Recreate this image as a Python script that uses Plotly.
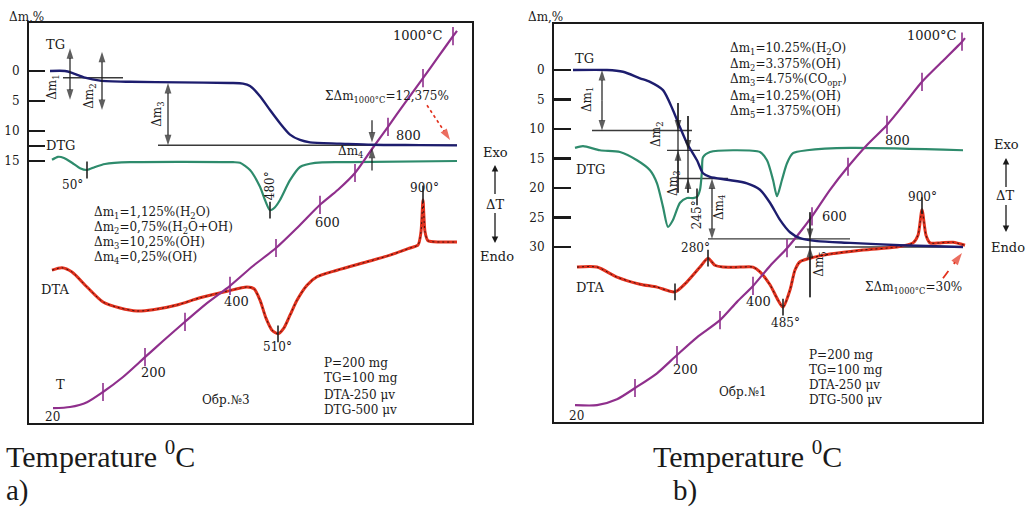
import plotly.graph_objects as go

FONT = "DejaVu Serif"
NAVY = "#1d1d6e"
GREEN = "#2e8b6c"
RED = "#e2311d"
PURPLE = "#8f2f8c"
INK = "#1a1a1a"
W, H = 1032, 508

# ================= panel a) data (x: time units, y: mass loss %) =================
tg_a_t = [21, 36, 43, 56, 71, 101, 151, 201, 214, 221, 231, 241, 251, 261, 271, 281, 311, 343, 391, 428]
tg_a_dm = [0, 0, 0.3, 1.1, 1.6, 1.8, 1.9, 2.0, 2.1, 2.5, 4.2, 6.5, 8.7, 10.6, 11.5, 11.9, 12.1, 12.3, 12.35, 12.4]

dtg_a_t = [23, 29, 35, 43, 51, 58, 66, 76, 101, 204, 211, 221, 231, 236, 241, 246, 251, 261, 271, 286, 321, 428]
dtg_a_y = [14.8, 14.3, 14.5, 15.3, 16.2, 16.5, 16.0, 15.5, 15.2, 15.2, 15.3, 16.5, 19.3, 21.5, 23.2, 22.7, 21.5, 18.2, 16.0, 15.3, 15.2, 15.0]

dta_a_t = [23, 33, 43, 58, 74, 91, 108, 124, 148, 171, 198, 218, 225, 231, 237, 243, 249, 255, 261, 268, 278, 288, 308, 338, 361, 381, 389, 392, 394, 396, 399, 411, 428]
dta_a_y = [33.2, 32.8, 33.5, 36.0, 38.5, 39.5, 40.0, 39.8, 39.0, 37.8, 36.7, 36.0, 36.3, 38.2, 41.2, 43.2, 43.8, 42.8, 40.7, 38.2, 35.7, 34.3, 33.2, 31.8, 30.7, 29.5, 29.0, 26.8, 21.5, 26.8, 28.3, 28.5, 28.5]

temp_a_t = [24, 41, 58, 74, 94, 116, 134, 156, 178, 201, 224, 247, 269, 291, 309, 326, 343, 359, 376, 394, 409, 424, 428]
temp_a_y = [56.2, 56.0, 55.2, 53.5, 51.0, 47.7, 45.0, 41.8, 38.7, 35.8, 32.5, 29.5, 26.0, 22.3, 19.8, 17.0, 13.0, 9.3, 5.3, 1.2, -2.3, -5.8, -6.7]
temp_a_tick_t = [74, 116, 156, 201, 247, 291, 326, 359, 394, 424]
temp_a_tick_y = [53.5, 47.7, 41.8, 35.8, 29.5, 22.3, 17.0, 9.3, 1.2, -5.8]

peak_a_t = [58, 241, 249, 394]
peak_a_y = [16.5, 23.2, 43.8, 20.5]

lev_a_dm = [1.125, 12.375]
lev_a_t0 = [34, 129]
lev_a_t1 = [94, 428]

dm_a_lines = ["Δm<sub>1</sub>=1,125%(H<sub>2</sub>O)", "Δm<sub>2</sub>=0,75%(H<sub>2</sub>O+OH)",
              "Δm<sub>3</sub>=10,25%(OH)", "Δm<sub>4</sub>=0,25%(OH)"]

# ================= panel b) data =================
tg_b_t = [19, 53, 69, 86, 96, 109, 119, 126, 133, 143, 149, 156, 173, 193, 206, 216, 226, 236, 246, 263, 296, 346, 409]
tg_b_dm = [0, 0, 0.3, 1.4, 2.0, 3.4, 6.8, 9.7, 12.4, 15.3, 17.5, 18.1, 18.6, 19.2, 20.3, 22.5, 25.4, 27.5, 28.5, 29.0, 29.3, 29.7, 30.0]

dtg_b_t = [21, 29, 46, 66, 83, 96, 103, 109, 114, 119, 126, 133, 139, 143, 146, 148, 149, 156, 179, 206, 213, 219, 223, 228, 233, 239, 253, 296, 409]
dtg_b_y = [13.2, 12.9, 13.6, 13.9, 15.3, 17.0, 19.2, 23.2, 26.6, 25.4, 22.5, 21.7, 21.7, 21.5, 20.3, 17.0, 14.8, 13.9, 13.6, 13.9, 15.3, 18.6, 21.4, 18.6, 15.8, 14.1, 13.6, 13.2, 13.6]

dta_b_t = [23, 43, 63, 86, 103, 121, 133, 146, 154, 161, 169, 186, 199, 206, 216, 224, 229, 236, 241, 246, 256, 276, 309, 343, 359, 364, 368, 372, 376, 386, 399, 411]
dta_b_y = [33.4, 33.4, 35.1, 36.3, 36.8, 37.6, 35.9, 33.4, 31.9, 33.1, 33.4, 33.4, 33.4, 34.2, 36.4, 39.0, 40.2, 37.3, 33.9, 32.5, 31.9, 31.2, 30.5, 30.0, 29.3, 28.0, 23.7, 28.0, 29.3, 29.3, 29.2, 29.7]

temp_b_t = [21, 43, 63, 81, 103, 123, 143, 166, 183, 199, 216, 233, 246, 258, 276, 294, 313, 333, 351, 368, 388, 408, 411]
temp_b_y = [56.8, 56.8, 55.8, 53.9, 51.4, 48.3, 45.3, 42.4, 39.3, 36.6, 33.2, 30.2, 27.5, 24.8, 20.3, 16.4, 12.7, 9.3, 5.6, 2.0, -1.4, -4.8, -5.4]
temp_b_tick_t = [81, 123, 166, 199, 233, 258, 294, 333, 368, 408]
temp_b_tick_y = [53.9, 48.3, 42.4, 36.6, 30.2, 24.8, 16.4, 9.3, 2.0, -4.8]

peak_b_t = [143, 121, 154, 229, 368]
peak_b_y = [21.5, 37.6, 31.9, 40.2, 23.0]

lev_b_dm = [10.25, 13.625, 18.375, 28.625, 30.0]
lev_b_t0 = [38, 113, 124, 154, 241]
lev_b_t1 = [138, 146, 174, 296, 409]

dm_b_lines = ["Δm<sub>1</sub>=10.25%(H<sub>2</sub>O)", "Δm<sub>2</sub>=3.375%(OH)",
              "Δm<sub>3</sub>=4.75%(CO<sub>орг</sub>)", "Δm<sub>4</sub>=10.25%(OH)",
              "Δm<sub>5</sub>=1.375%(OH)"]

cond_lines = ["P=200 mg", "TG=100 mg", "DTA-250 μv", "DTG-500 μv"]

fig = go.Figure()
A = ("x", "y")
B = ("x2", "y2")


def curve(xs, ys, color, width, ax, dash=None, shape="spline", smoothing=0.7):
    fig.add_trace(go.Scatter(x=xs, y=ys, mode="lines",
                             line=dict(color=color, width=width, dash=dash, shape=shape, smoothing=smoothing),
                             xaxis=ax[0], yaxis=ax[1], hoverinfo="skip", showlegend=False))


def ticks(xs, ys, color, ax, size=12):
    fig.add_trace(go.Scatter(x=xs, y=ys, mode="markers",
                             marker=dict(symbol="line-ns", size=size, line=dict(color=color, width=1.6)),
                             xaxis=ax[0], yaxis=ax[1], hoverinfo="skip", showlegend=False))


def label(text, x, y, ax, size=13, angle=0, xanchor="center", color=INK):
    fig.add_annotation(text=text, x=x, y=y, xref=ax[0], yref=ax[1], showarrow=False,
                       textangle=angle, xanchor=xanchor, yanchor="middle",
                       font=dict(family=FONT, size=size, color=color))


def plabel(text, px, py, size=13, xanchor="center", family=FONT, yanchor="middle"):
    # label placed outside the plot frames (page coordinates)
    fig.add_annotation(text=text, x=px / W, y=1 - py / H, xref="paper", yref="paper",
                       showarrow=False, xanchor=xanchor, yanchor=yanchor, borderpad=0,
                       font=dict(family=family, size=size, color=INK))


def parrow(px, py, dy):
    fig.add_annotation(text=" ", x=px / W, y=1 - py / H, xref="paper", yref="paper",
                       ax=0, ay=dy, axref="pixel", ayref="pixel", showarrow=True,
                       arrowhead=2, arrowsize=1, arrowwidth=1.3, arrowcolor=INK,
                       standoff=0, startstandoff=0, font=dict(size=2))


def arrow(xs, ys, ax, color=INK, width=1.2, dash=None, head=11):
    # a line whose last point carries an arrow head aligned with the line
    fig.add_trace(go.Scatter(x=xs, y=ys, mode="lines+markers",
                             line=dict(color=color, width=width, dash=dash),
                             marker=dict(symbol="arrow", angleref="previous", color=color,
                                         size=[0] * (len(xs) - 1) + [head],
                                         line=dict(width=0)),
                             xaxis=ax[0], yaxis=ax[1], hoverinfo="skip", showlegend=False))


def darrow(x, y0, y1, ax):
    mid = (y0 + y1) / 2
    arrow([x, x], [mid, y0], ax)
    arrow([x, x], [mid, y1], ax)


def panel(ax, tg, dtg, dta, temp, temp_ticks, peaks, levels):
    for dm, t0, t1 in zip(*levels):
        curve([t0, t1], [dm, dm], "#3a3a3a", 1.4, ax, shape="linear")
    curve(dtg[0], dtg[1], GREEN, 2.2, ax)
    curve(dta[0], dta[1], RED, 3.0, ax)
    curve(dta[0], dta[1], "#2a1010", 0.9, ax, dash="2px,3px")
    curve(temp[0], temp[1], PURPLE, 2.2, ax)
    curve(tg[0], tg[1], NAVY, 2.4, ax)
    ticks(temp_ticks[0], temp_ticks[1], PURPLE, ax, 13)
    ticks(peaks[0], peaks[1], "#222222", ax, 12)


panel(A, (tg_a_t, tg_a_dm), (dtg_a_t, dtg_a_y), (dta_a_t, dta_a_y), (temp_a_t, temp_a_y),
      (temp_a_tick_t, temp_a_tick_y), (peak_a_t, peak_a_y), (lev_a_dm, lev_a_t0, lev_a_t1))
panel(B, (tg_b_t, tg_b_dm), (dtg_b_t, dtg_b_y), (dta_b_t, dta_b_y), (temp_b_t, temp_b_y),
      (temp_b_tick_t, temp_b_tick_y), (peak_b_t, peak_b_y), (lev_b_dm, lev_b_t0, lev_b_t1))

# ---------- dimension arrows panel a ----------
darrow(41, -3.8, 4.8, A)
darrow(73, -3.2, 6.5, A)
darrow(139, 2.0, 12.375, A)
arrow([343, 343], [8.2, 11.9], A)
arrow([343, 343], [16.6, 12.8], A)

# ---------- dimension arrows panel b ----------
darrow(48, 0, 10.25, B)
curve([124, 124], [5.6, 20.8], INK, 1.2, B, shape="linear")
arrow([124, 124], [5.6, 10.25], B)
arrow([124, 124], [20.8, 13.625], B)
curve([134, 134], [7.8, 20.8], INK, 1.2, B, shape="linear")
arrow([134, 134], [7.8, 13.625], B)
arrow([134, 134], [20.8, 18.375], B)
darrow(158, 18.375, 28.625, B)
curve([256, 256], [24.1, 38.5], INK, 1.2, B, shape="linear")
arrow([256, 256], [24.1, 28.625], B)
arrow([256, 256], [38.5, 30.0], B)

# red pointer arrows to the total mass loss
arrow([398, 421], [5.7, 11.5], A, color=RED, width=1.6, dash="dot", head=12)
arrow([389, 408], [35.3, 31.0], B, color=RED, width=1.8, dash="dash", head=13)

# ---------- labels panel a ----------
label("TG", 26, -4.5, A)
label("DTG", 31, 12.5, A)
label("DTA", 26, 36.5, A)
label("T", 31, 52.3, A)
label("20", 23, 57.7, A, 12)
label("200", 124, 50.2, A)
label("400", 207, 38.5, A)
label("600", 298, 25.2, A)
label("800", 379, 10.7, A)
label("1000°C", 389, -6.0, A)
label("50°", 43, 19.0, A, 12)
label("480°", 241, 19.2, A, 12, angle=-90)
label("510°", 248, 46.0, A, 12)
label("900°", 395, 19.5, A, 12)
label("Δm<sub>1</sub>", 24, 2.8, A, 12, angle=-90)
label("Δm<sub>2</sub>", 61, 4.3, A, 12, angle=-90)
label("Δm<sub>3</sub>", 129, 7.3, A, 12, angle=-90)
label("Δm<sub>4</sub>", 321, 13.5, A, 12)
label("ΣΔm<sub>1000°C</sub>=12,375%", 358, 4.3, A, 12)
for txt, v in zip(dm_a_lines, [23.7, 26.2, 28.7, 31.2]):
    label(txt, 63, v, A, 12, xanchor="left")
for txt, v in zip(cond_lines, [48.7, 51.2, 54.0, 56.5]):
    label(txt, 293, v, A, 12, xanchor="left")
label("Обр.№3", 197, 54.8, A, 12)

# ---------- labels panel b ----------
label("TG", 30, -2.0, B)
label("DTG", 36, 16.9, B)
label("DTA", 36, 36.8, B)
label("20", 22, 58.6, B, 12)
label("200", 131, 50.8, B)
label("400", 204, 39.3, B)
label("600", 280, 24.9, B)
label("800", 343, 11.9, B)
label("1000°C", 378, -5.9, B)
label("245°", 143, 24.6, B, 12, angle=-90)
label("280°", 141, 30.2, B, 12)
label("485°", 231, 42.9, B, 12)
label("900°", 368, 21.5, B, 12)
label("Δm<sub>1</sub>", 34, 5.1, B, 12, angle=-90)
label("Δm<sub>2</sub>", 103, 11.0, B, 12, angle=-90)
label("Δm<sub>3</sub>", 120, 19.3, B, 12, angle=-90)
label("Δm<sub>4</sub>", 166, 23.4, B, 12, angle=-90)
label("Δm<sub>5</sub>", 266, 33.0, B, 12, angle=-90)
for txt, v in zip(dm_b_lines, [-3.56, -0.85, 1.69, 4.58, 7.12]):
    label(txt, 174, v, B, 12, xanchor="left")
for txt, v in zip(cond_lines, [48.3, 50.85, 53.4, 55.9]):
    label(txt, 253, v, B, 12, xanchor="left")
label("Обр.№1", 189, 54.6, B, 12)
label("ΣΔm<sub>1000°C</sub>=30%", 359, 36.9, B, 12)

# ---------- labels outside the frames ----------
plabel("Δm,%", 8, 17, 12, xanchor="left")
plabel("Δm,%", 527, 17, 12, xanchor="left")
plabel("Exo", 495, 152)
plabel("ΔT", 495, 205)
plabel("Endo", 497, 256)
parrow(495, 165, 32)
parrow(495, 243, -33)
plabel("Exo", 1006, 145)
plabel("ΔT", 1005, 195)
plabel("Endo", 1008, 247)
parrow(1006, 158, 32)
parrow(1006, 232, -30)

# ---------- captions ----------
plabel("Temperature <sup>0</sup>C", 5, 454, 30, xanchor="left", family="Liberation Serif")
plabel("Temperature <sup>0</sup>C", 652, 454, 30, xanchor="left", family="Liberation Serif")
plabel("a)", 5, 508, 29, xanchor="left", family="Liberation Serif", yanchor="bottom")
plabel("b)", 672, 508, 29, xanchor="left", family="Liberation Serif", yanchor="bottom")

frame = dict(showline=True, mirror=True, linecolor=INK, linewidth=2, showgrid=False,
             zeroline=False, fixedrange=True)
fig.update_layout(
    width=W, height=H, margin=dict(l=0, r=0, t=0, b=0),
    paper_bgcolor="white", plot_bgcolor="white", showlegend=False,
    xaxis=dict(domain=[29 / W, 472 / W], range=[0, 443], showticklabels=False, ticks="",
               anchor="y", **frame),
    yaxis=dict(domain=[85 / H, 485 / H], range=[58.67, -8], tickvals=[0, 5, 10, 12.5, 15],
               ticktext=["0", "5", "10", " ", "15"], ticks="inside", ticklen=16, tickwidth=2.5,
               tickcolor=INK, ticklabelstandoff=5, tickfont=dict(family=FONT, size=12, color=INK),
               anchor="x", **frame),
    xaxis2=dict(domain=[554 / W, 982 / W], range=[0, 428], showticklabels=False, ticks="",
                anchor="y2", **frame),
    yaxis2=dict(domain=[86 / H, 484 / H], range=[59.66, -7.8], tickvals=[0, 5, 10, 15, 20, 25, 30],
                ticks="inside", ticklen=17, tickwidth=2.5, tickcolor=INK, ticklabelstandoff=5,
                tickfont=dict(family=FONT, size=12, color=INK), anchor="x2", **frame),
)

fig.write_html("out.html", config={"displayModeBar": False, "staticPlot": True},
               post_script="document.body.style.margin='0px';document.body.style.overflow='hidden';")
